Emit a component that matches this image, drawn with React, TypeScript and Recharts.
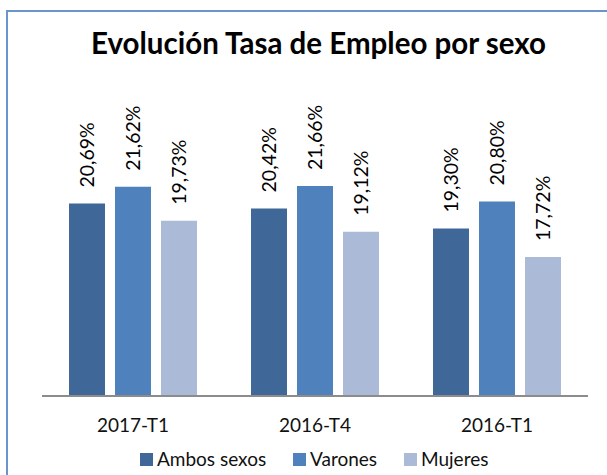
import React from 'react';
import { BarChart, Bar, XAxis, YAxis, Legend, LabelList } from 'recharts';

const categories = ['2017-T1', '2016-T4', '2016-T1'];
const ambos = [20.69, 20.42, 19.3];
const varones = [21.62, 21.66, 20.8];
const mujeres = [19.73, 19.12, 17.72];
const seriesNames = ['Ambos sexos', 'Varones', 'Mujeres'];
const colors = ['#3F6797', '#4F81BD', '#AABAD7'];
const title = 'Evolución Tasa de Empleo por sexo';

const data = categories.map((c, i) => ({
  name: c,
  ambos: ambos[i],
  varones: varones[i],
  mujeres: mujeres[i],
}));

const FONT = 'Lato, "Open Sans", sans-serif';
const legendLefts = [140, 293, 404];

const fmt = (v: number) => v.toFixed(2).replace('.', ',') + '%';

const RotLabel = (props: any) => {
  const { x, y, width, value } = props;
  const cx = x + width / 2 + 7;
  const ty = y - 16;
  return (
    <text
      x={cx}
      y={ty}
      transform={`rotate(-90 ${cx} ${ty})`}
      textAnchor="start"
      fontSize={19.5}
      fontFamily={FONT}
      fill="#000"
    >
      {fmt(value)}
    </text>
  );
};

const LegendContent = () => (
  <div
    style={{
      position: 'relative',
      width: 607,
      height: 24,
      fontFamily: FONT,
      fontSize: 19,
      lineHeight: '24px',
      color: '#111',
    }}
  >
    {seriesNames.map((n, i) => (
      <div
        key={n}
        style={{
          position: 'absolute',
          left: legendLefts[i],
          top: 0,
          height: 24,
          display: 'flex',
          alignItems: 'center',
          whiteSpace: 'nowrap',
        }}
      >
        <div style={{ width: 13, height: 13, background: colors[i], marginRight: 4 }} />
        <span>{n}</span>
      </div>
    ))}
  </div>
);

export default function App() {
  return (
    <div
      style={{
        position: 'fixed',
        left: 0,
        top: 0,
        width: 607,
        height: 475,
        overflow: 'hidden',
        background: '#fff',
      }}
    >
      <div
        style={{
          position: 'absolute',
          left: 0,
          width: 637,
          top: 25,
          textAlign: 'center',
          fontFamily: FONT,
          fontWeight: 'bold',
          fontSize: 29.5,
          color: '#000',
        }}
      >
        {title}
      </div>
      <div style={{ position: 'absolute', left: 0, top: 0 }}>
        <BarChart
          width={607}
          height={475}
          data={data}
          margin={{ top: 126, right: 19, bottom: 44, left: 42 }}
          barSize={36}
          barGap={10}
        >
          <XAxis
            dataKey="name"
            height={35}
            tickLine={false}
            axisLine={{ stroke: '#8C8C8C', strokeWidth: 2 }}
            tick={{ fontSize: 19, fontFamily: FONT, fill: '#111' }}
            tickMargin={17}
          />
          <YAxis hide domain={[10, 25]} allowDataOverflow />
          <Legend
            verticalAlign="middle"
            align="center"
            layout="horizontal"
            wrapperStyle={{ position: 'absolute', top: 447, left: 0, width: 607 }}
            content={<LegendContent />}
          />
          <Bar dataKey="ambos" name={seriesNames[0]} fill={colors[0]} isAnimationActive={false}>
            <LabelList dataKey="ambos" content={<RotLabel />} />
          </Bar>
          <Bar dataKey="varones" name={seriesNames[1]} fill={colors[1]} isAnimationActive={false}>
            <LabelList dataKey="varones" content={<RotLabel />} />
          </Bar>
          <Bar dataKey="mujeres" name={seriesNames[2]} fill={colors[2]} isAnimationActive={false}>
            <LabelList dataKey="mujeres" content={<RotLabel />} />
          </Bar>
        </BarChart>
      </div>
      <div
        style={{
          position: 'absolute',
          left: 6,
          top: 10,
          width: 700,
          height: 2,
          background: '#6A95CC',
          zIndex: 5,
        }}
      />
      <div
        style={{
          position: 'absolute',
          left: 6,
          top: 10,
          width: 2,
          height: 600,
          background: '#6A95CC',
          zIndex: 5,
        }}
      />
    </div>
  );
}
